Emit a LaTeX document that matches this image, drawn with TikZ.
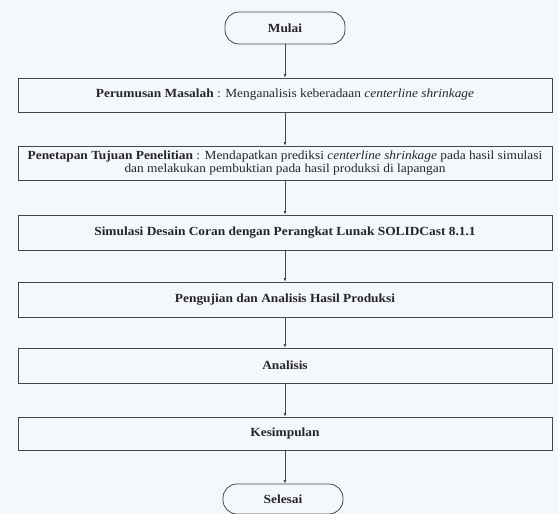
\documentclass[tikz,border=0pt]{standalone}
\usepackage{fontspec}
\setmainfont{Liberation Serif}[FakeStretch=1.08]
\usepackage{tikz}
\usetikzlibrary{arrows.meta, positioning}

\definecolor{paper}{RGB}{244,247,252}
\definecolor{ink}{RGB}{70,70,75}

\begin{document}
\begin{tikzpicture}[x=1pt, y=-1pt,
        base/.style={draw=ink, line width=0.8pt, rectangle, minimum width=534pt, minimum height=34pt, inner sep=2pt, align=center, font=\fontsize{12.4}{12.6}\selectfont, text=black!85},
        terminal/.style={base, rounded corners=14pt, minimum width=120pt, minimum height=32pt, font=\fontsize{12.4}{12.6}\selectfont\bfseries},
        arrow/.style={-{Latex[length=3.5pt, width=3pt]}, line width=0.7pt, draw=ink}
    ]
    \fill[paper] (0,0) rectangle (558,514);
    \useasboundingbox (0,0) rectangle (558,514);

    % Start / End
    \node[terminal] (mulai) at (285, 28) {Mulai};
    \node[terminal, minimum height=30pt] (selesai) at (283, 499) {Selesai};

    % Steps
    \node[base] (rumusan) at (285, 95) {\textbf{Perumusan Masalah} : Menganalisis keberadaan \textit{centerline shrinkage}};
    \node[base] (tujuan) at (285, 163) {\textbf{Penetapan Tujuan Penelitian} : Mendapatkan prediksi \textit{centerline shrinkage} pada hasil simulasi \\ dan melakukan pembuktian pada hasil produksi di lapangan};
    \node[base, minimum height=35pt] (simulasi) at (285, 232.5) {\textbf{Simulasi Desain Coran dengan Perangkat Lunak SOLIDCast 8.1.1}};
    \node[base, minimum height=35pt] (pengujian) at (285, 299.5) {\textbf{Pengujian dan Analisis Hasil Produksi}};
    \node[base, minimum height=35pt] (analisis) at (285, 365.5) {\textbf{Analisis}};
    \node[base, minimum height=33pt] (kesimpulan) at (285, 433.5) {\textbf{Kesimpulan}};

    % Arrows
    \draw[arrow] (mulai) -- (rumusan);
    \draw[arrow] (rumusan) -- (tujuan);
    \draw[arrow] (tujuan) -- (simulasi);
    \draw[arrow] (simulasi) -- (pengujian);
    \draw[arrow] (pengujian) -- (analisis);
    \draw[arrow] (analisis) -- (kesimpulan);
    \draw[arrow] (kesimpulan.south) -- (kesimpulan.south |- selesai.north);
\end{tikzpicture}
\end{document}
